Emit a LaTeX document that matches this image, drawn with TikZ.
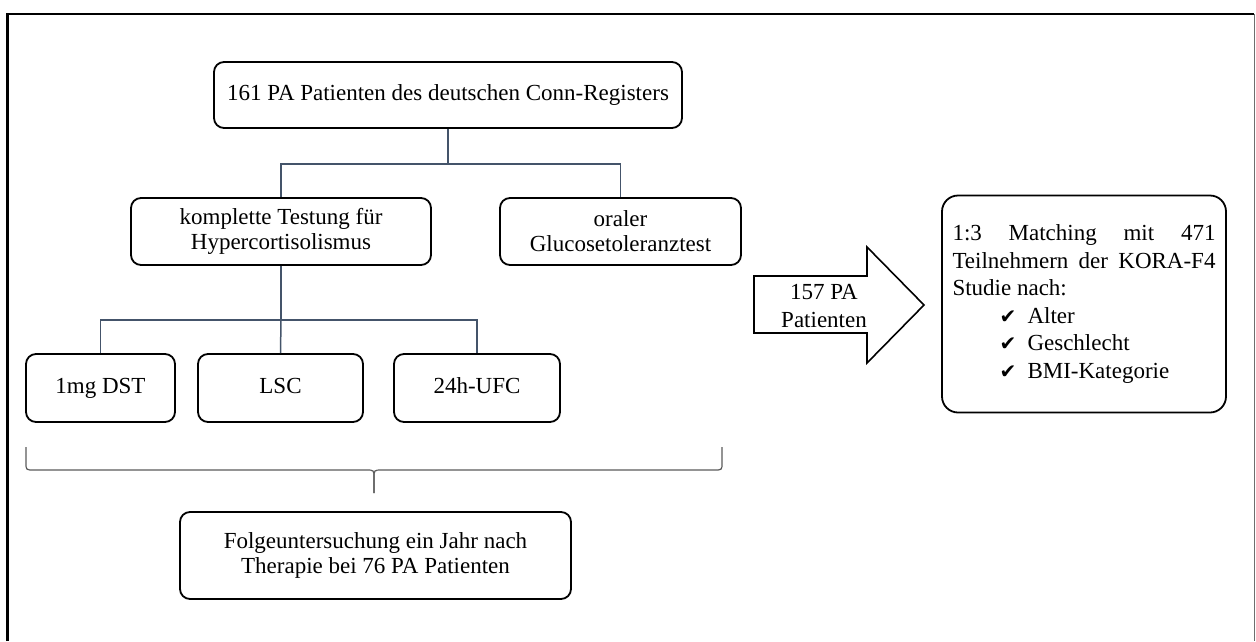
\documentclass[tikz,border=0pt]{standalone}
\usepackage{fontspec}
\setmainfont{Liberation Serif}
\newfontfamily\symfont{DejaVu Sans}
\usetikzlibrary{calc}

\definecolor{connblue}{HTML}{44546A}
\definecolor{bracegray}{HTML}{5A5A5A}
\definecolor{framegray}{HTML}{6E6E6E}

\newcommand{\tick}{{\symfont\fontsize{20}{20}\selectfont ✔}}

\tikzset{
  stagebox/.style={draw=black, line width=1.8pt, rounded corners=10pt,
    fill=white, inner sep=0pt, align=center,
    font=\fontsize{23}{25}\selectfont},
  oneline/.style={text height=16pt, text depth=5pt},
  matchbox/.style={draw=black, line width=1.8pt, rounded corners=16pt,
    fill=white, inner sep=0pt, minimum width=284pt, minimum height=217pt},
  conn/.style={draw=connblue, line width=1.5pt},
  bracepath/.style={draw=bracegray, line width=1.2pt},
  blockarrow/.style={draw=black, line width=1.6pt, fill=white, line join=miter},
  framepath/.style={draw=black, line width=2.5pt}
}

\begin{document}
\begin{tikzpicture}[x=1pt, y=-1pt]
\useasboundingbox (0,0) rectangle (1256,641);

% page frame (open at the bottom)
\draw[framepath] (7.3,641) -- (7.3,14) -- (1254.3,14);
\draw[draw=framegray, line width=1.4pt] (1254.3,14) -- (1254.3,641);

% tree of examinations
\node[stagebox, oneline, minimum width=468pt, minimum height=66pt] (top) at (448,95)
  {161 PA Patienten des deutschen Conn-Registers};
\node[stagebox, minimum width=300pt, minimum height=67pt] (komp) at (281,231.5)
  {komplette Testung für\\Hypercortisolismus};
\node[stagebox, minimum width=241pt, minimum height=67pt] (oral) at (620.5,231.5)
  {oraler\\Glucosetoleranztest};
\node[stagebox, oneline, minimum width=149pt, minimum height=68pt] (dst) at (100.5,388)
  {1mg DST};
\node[stagebox, oneline, minimum width=165pt, minimum height=68pt] (lsc) at (280.5,388)
  {LSC};
\node[stagebox, oneline, minimum width=166pt, minimum height=68pt] (ufc) at (477,388)
  {24h-UFC};
\node[stagebox, minimum width=391pt, minimum height=87pt] (folge) at (375.5,555.5)
  {Folgeuntersuchung ein Jahr nach\\Therapie bei 76 PA Patienten};

% junctions of the elbow connectors
\coordinate (j1) at (top.south |- 0,164);
\coordinate (j2) at (komp.south |- 0,320);

\draw[conn] (top.south) -- (j1);
\draw[conn] (j1) -| (komp.north);
\draw[conn] (j1) -| (oral.north);
\draw[conn] (komp.south) -- (j2);
\draw[conn] (j2) -| (dst.north);
\draw[conn] (j2) -- (lsc.north);
\draw[conn] (j2) -| (ufc.north);

% curly brace under the three tests
\coordinate (bl) at (26,447);
\coordinate (br) at (722,447);
\coordinate (btip) at (374,493);
\draw[bracepath] (bl) -- (26,463) .. controls (26,470) .. (34,470)
  -- (366,470) .. controls (374,470) .. (374,478) -- (btip);
\draw[bracepath] (btip) -- (374,478) .. controls (374,470) .. (382,470)
  -- (714,470) .. controls (722,470) .. (722,463) -- (br);

% block arrow towards the matching box
\draw[blockarrow] (754,276) -- (867,276) -- (867,247) -- (924,305)
  -- (867,363) -- (867,333) -- (754,333) -- cycle;
\node[align=center, inner sep=0pt, font=\fontsize{23}{28}\selectfont]
  (arrowtxt) at (824,306) {157 PA\\Patienten};

% matching box
\node[matchbox] (match) at (1084,304) {%
  \raisebox{-4pt}{\begin{minipage}{263pt}
  \fontsize{23}{27.6}\selectfont\setlength{\parindent}{0pt}%
  \makebox[\linewidth][s]{1:3 Matching mit 471}\par
  \makebox[\linewidth][s]{Teilnehmern der KORA-F4}\par
  Studie nach:\par
  \hspace*{47pt}\makebox[28pt][l]{\tick}Alter\par
  \hspace*{47pt}\makebox[28pt][l]{\tick}Geschlecht\par
  \hspace*{47pt}\makebox[28pt][l]{\tick}BMI-Kategorie
  \end{minipage}}};
\end{tikzpicture}
\end{document}
